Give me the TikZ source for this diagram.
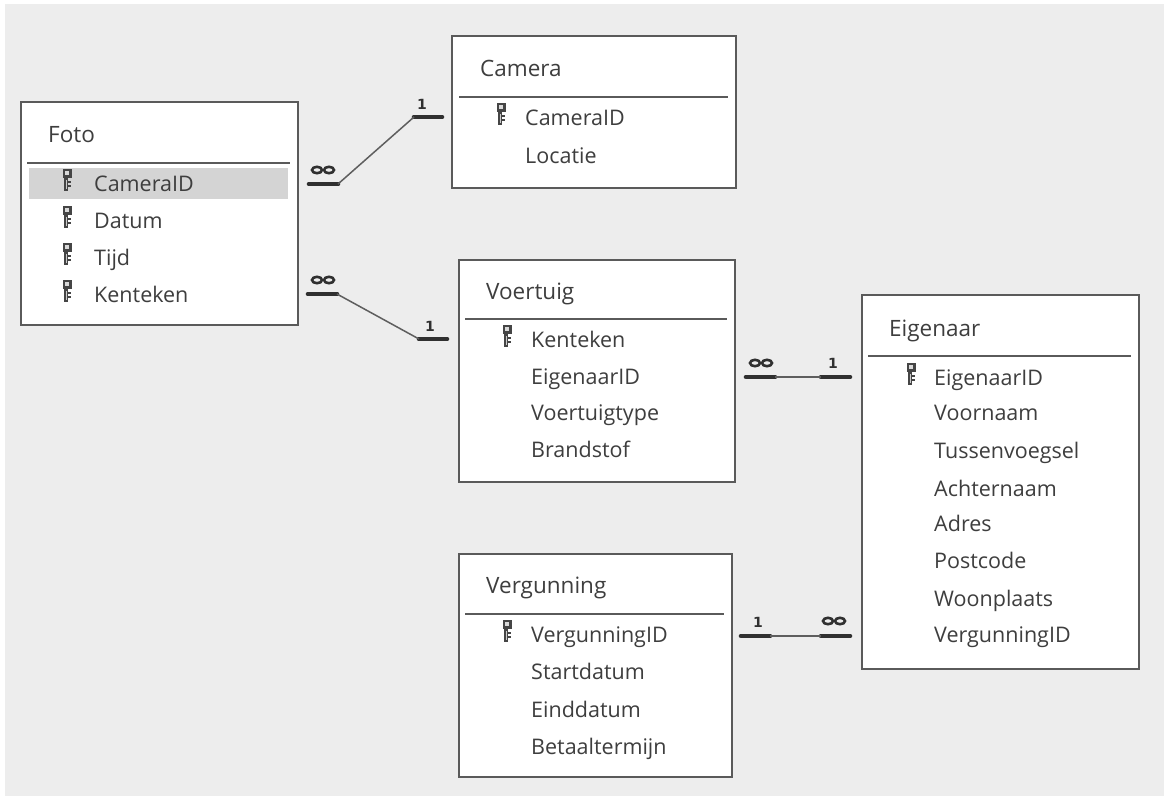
\documentclass[tikz,border=0pt]{standalone}
\usepackage{fontspec}
\setmainfont{Open Sans}
\newfontfamily\symfont{DejaVu Sans}
\definecolor{bggrey}{HTML}{EDEDED}
\definecolor{boxline}{HTML}{5A5A5A}
\definecolor{txtgrey}{HTML}{3E3E3E}
\definecolor{hilite}{HTML}{D4D4D4}
\definecolor{relgrey}{HTML}{5E5E5E}
\definecolor{bardark}{HTML}{303030}
\tikzset{
  tablebox/.style={draw=boxline, line width=1.6pt, fill=white, anchor=north west, inner sep=0pt},
  seprule/.style={draw=boxline, line width=1.4pt},
  field/.style={anchor=base west, inner sep=0pt, text=txtgrey, font=\fontsize{21.5}{24}\selectfont},
  ttl/.style={anchor=base west, inner sep=0pt, text=txtgrey, font=\fontsize{22.5}{26}\selectfont},
  bar/.style={draw=bardark, line width=4.6pt, line cap=round},
  relline/.style={draw=relgrey, line width=1.5pt},
  card/.style={inner sep=0pt, text=bardark, font=\symfont\bfseries\fontsize{14}{15}\selectfont},
  keyicon/.pic={
    \fill[bardark!90] (-4.5,-22) rectangle (4.5,-13);
    \fill[white!70!gray] (-2,-20) rectangle (2,-16);
    \fill[bardark!90] (-2.8,-13) rectangle (1,0);
    \fill[white!60!gray] (-1.4,-11) rectangle (-0.2,-2);
    \fill[bardark!90] (1,-10) rectangle (3.8,-8.3);
    \fill[bardark!90] (1,-6) rectangle (3.8,-4.3);
  },
  infsym/.pic={
    \draw[bardark, line width=2.6pt] (-6,0) ellipse [x radius=5, y radius=3.2];
    \draw[bardark, line width=2.6pt] (6,0) ellipse [x radius=5, y radius=3.2];
  }
}
\begin{document}
\begin{tikzpicture}[x=1pt,y=-1pt]
\useasboundingbox (0,0) rectangle (1164,796);
\fill[white] (0,0) rectangle (1164,796);
\fill[bggrey] (5,4) rectangle (1164,796);

% ---------- Foto ----------
\node[tablebox, minimum width=277pt, minimum height=223pt] (foto) at (20,101) {};
\node[ttl] (fotoT) at (48,142) {Foto};
\draw[seprule] (27,163) -- (290,163);
\fill[hilite] (29,168) rectangle (288,199);
\pic at (67,191) {keyicon};
\node[field] (f1) at (94,191) {CameraID};
\pic at (67,228) {keyicon};
\node[field] (f2) at (94,228) {Datum};
\pic at (67,265) {keyicon};
\node[field] (f3) at (94,265) {Tijd};
\pic at (67,302) {keyicon};
\node[field] (f4) at (94,302) {Kenteken};

% ---------- Camera ----------
\node[tablebox, minimum width=284pt, minimum height=152pt] (camera) at (451,35) {};
\node[ttl] (camT) at (480,76) {Camera};
\draw[seprule] (459,97) -- (728,97);
\pic at (501,125) {keyicon};
\node[field] (c1) at (525,125) {CameraID};
\node[field] (c2) at (525,163) {Locatie};

% ---------- Voertuig ----------
\node[tablebox, minimum width=276pt, minimum height=222pt] (voertuig) at (458,259) {};
\node[ttl] (voeT) at (486,299) {Voertuig};
\draw[seprule] (465,319) -- (727,319);
\pic at (507,347) {keyicon};
\node[field] (v1) at (531,347) {Kenteken};
\node[field] (v2) at (531,384) {EigenaarID};
\node[field] (v3) at (531,420) {Voertuigtype};
\node[field] (v4) at (531,457) {Brandstof};

% ---------- Eigenaar ----------
\node[tablebox, minimum width=277pt, minimum height=374pt] (eigenaar) at (861,294) {};
\node[ttl] (eigT) at (889,336) {Eigenaar};
\draw[seprule] (868,356) -- (1131,356);
\pic at (911,385) {keyicon};
\node[field] (e1) at (934,385) {EigenaarID};
\node[field] (e2) at (934,420) {Voornaam};
\node[field] (e3) at (934,458) {Tussenvoegsel};
\node[field] (e4) at (934,496) {Achternaam};
\node[field] (e5) at (934,531) {Adres};
\node[field] (e6) at (934,568) {Postcode};
\node[field] (e7) at (934,606) {Woonplaats};
\node[field] (e8) at (934,642) {VergunningID};

% ---------- Vergunning ----------
\node[tablebox, minimum width=273pt, minimum height=223pt] (vergunning) at (458,553) {};
\node[ttl] (verT) at (486,593) {Vergunning};
\draw[seprule] (465,614) -- (724,614);
\pic at (507,642) {keyicon};
\node[field] (g1) at (531,642) {VergunningID};
\node[field] (g2) at (531,679) {Startdatum};
\node[field] (g3) at (531,717) {Einddatum};
\node[field] (g4) at (531,754) {Betaaltermijn};

% ---------- Relations ----------
% Foto - Camera
\coordinate (fcA) at (309,184);
\coordinate (fcB) at (338,184);
\coordinate (cfB) at (414,117);
\coordinate (cfA) at (442,117);
\draw[bar] (fcA) -- (fcB);
\draw[bar] (cfB) -- (cfA);
\draw[relline] (fcB) -- (cfB);
\pic at (323,170) {infsym};
\node[card] (cfone) at (422,104) {1};

% Foto - Voertuig
\coordinate (fvA) at (308,294);
\coordinate (fvB) at (337,294);
\coordinate (vfB) at (419,339);
\coordinate (vfA) at (447,339);
\draw[bar] (fvA) -- (fvB);
\draw[bar] (vfB) -- (vfA);
\draw[relline] (fvB) -- (vfB);
\pic at (323,280) {infsym};
\node[card] (vfone) at (430,326) {1};

% Voertuig - Eigenaar
\coordinate (veA) at (746,377);
\coordinate (veB) at (775,377);
\coordinate (evB) at (821,377);
\coordinate (evA) at (850,377);
\draw[bar] (veA) -- (veB);
\draw[bar] (evB) -- (evA);
\draw[relline] (veB) -- (evB);
\pic at (761,363) {infsym};
\node[card] (evone) at (833,363) {1};

% Vergunning - Eigenaar
\coordinate (geA) at (741,636);
\coordinate (geB) at (770,636);
\coordinate (egB) at (821,636);
\coordinate (egA) at (850,636);
\draw[bar] (geA) -- (geB);
\draw[bar] (egB) -- (egA);
\draw[relline] (geB) -- (egB);
\node[card] (geone) at (758,622) {1};
\pic at (834,621) {infsym};
\end{tikzpicture}
\end{document}
